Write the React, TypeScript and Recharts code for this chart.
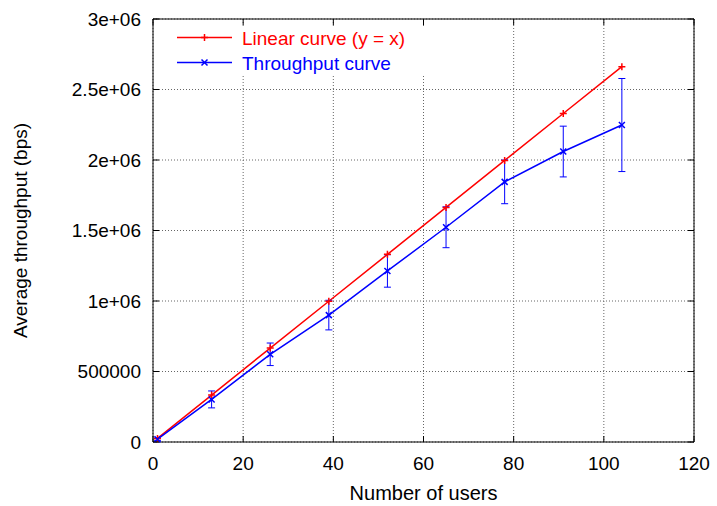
import { LineChart, Line, XAxis, YAxis, CartesianGrid, ErrorBar, ReferenceArea, Legend } from 'recharts';

// number of users on the x axis
const users = [1, 13, 26, 39, 52, 65, 78, 91, 104];
// ideal line, y = x
const linearCurve = [25600, 333000, 666000, 998000, 1331000, 1664000, 1997000, 2330000, 2662000];
// measured average throughput and its error
const throughputCurve = [20000, 302000, 622000, 900000, 1213000, 1523000, 1845000, 2060000, 2248000];
const throughputError = [8000, 60000, 80000, 105000, 115000, 145000, 155000, 180000, 330000];

const xTicks = [0, 20, 40, 60, 80, 100, 120];
const yTicks = [0, 500000, 1000000, 1500000, 2000000, 2500000, 3000000];
const yTickLabels = ['0', '500000', '1e+06', '1.5e+06', '2e+06', '2.5e+06', '3e+06'];

const seriesNames = ['Linear curve (y = x)', 'Throughput curve'];
const seriesColors = ['#ff0000', '#0000ff'];

const data = users.map((u, i) => ({
  users: u,
  linear: linearCurve[i],
  throughput: throughputCurve[i],
  err: throughputError[i],
}));

const W = 717;
const H = 506;
const LEFT = 153;
const RIGHT = 694;
const TOP = 19;
const BOTTOM = 442;
const TICK_LEN = 6;
const FONT = '"Liberation Sans", Arial, Helvetica, sans-serif';

function XTick(props: any) {
  const { x, payload } = props;
  return (
    <g>
      <line x1={x} x2={x} y1={BOTTOM} y2={BOTTOM - TICK_LEN} stroke="#000" />
      <line x1={x} x2={x} y1={TOP} y2={TOP + TICK_LEN} stroke="#000" />
      <text x={x} y={BOTTOM + 28} textAnchor="middle" fontSize={19} fontFamily={FONT} fill="#000">
        {payload.value}
      </text>
    </g>
  );
}

function YTick(props: any) {
  const { y, payload } = props;
  const idx = yTicks.indexOf(payload.value);
  return (
    <g>
      <line x1={LEFT} x2={LEFT + TICK_LEN} y1={y} y2={y} stroke="#000" />
      <line x1={RIGHT} x2={RIGHT - TICK_LEN} y1={y} y2={y} stroke="#000" />
      <text x={141} y={y + 6.5} textAnchor="end" fontSize={19} fontFamily={FONT} fill="#000">
        {idx >= 0 ? yTickLabels[idx] : payload.value}
      </text>
    </g>
  );
}

function PlusDot(props: any) {
  const { cx, cy } = props;
  if (cx == null || cy == null) return null;
  const s = 3.5;
  return (
    <path
      d={`M${cx - s},${cy}H${cx + s}M${cx},${cy - s}V${cy + s}`}
      stroke={seriesColors[0]}
      strokeWidth={1.5}
      fill="none"
    />
  );
}

function CrossDot(props: any) {
  const { cx, cy } = props;
  if (cx == null || cy == null) return null;
  const s = 3;
  return (
    <path
      d={`M${cx - s},${cy - s}L${cx + s},${cy + s}M${cx - s},${cy + s}L${cx + s},${cy - s}`}
      stroke={seriesColors[1]}
      strokeWidth={1.5}
      fill="none"
    />
  );
}

function LegendBox() {
  const rows = [37.5, 62.5];
  return (
    <svg width={460} height={80} style={{ display: 'block' }}>
      {/* gnuplot key is opaque: hides the grid behind it */}
      <rect x={160} y={26} width={270} height={50} fill="#fff" />
      {seriesNames.map((name, i) => {
        const y = rows[i];
        const mx = 204.5;
        return (
          <g key={name}>
            <line x1={177} x2={232} y1={y} y2={y} stroke={seriesColors[i]} strokeWidth={1.5} />
            {i === 0 ? (
              <path d={`M${mx - 3.5},${y}H${mx + 3.5}M${mx},${y - 3.5}V${y + 3.5}`} stroke={seriesColors[i]} strokeWidth={1.5} />
            ) : (
              <path d={`M${mx - 3},${y - 3}L${mx + 3},${y + 3}M${mx - 3},${y + 3}L${mx + 3},${y - 3}`} stroke={seriesColors[i]} strokeWidth={1.5} />
            )}
            <text x={242} y={y + 7} fontSize={19} fontFamily={FONT} fill={seriesColors[i]}>
              {name}
            </text>
          </g>
        );
      })}
    </svg>
  );
}

export default function App() {
  return (
    <div style={{ position: 'absolute', left: 0, top: 0, width: W, height: H, background: '#fff' }}>
      <LineChart width={W} height={H} data={data} margin={{ top: 19, right: 23, left: 43, bottom: 24 }}>
        <CartesianGrid stroke="#666" strokeDasharray="1 2" strokeWidth={1} />
        <XAxis
          type="number"
          dataKey="users"
          domain={[0, 120]}
          ticks={xTicks}
          height={40}
          tickSize={0}
          tickMargin={0}
          axisLine={false}
          tickLine={false}
          tick={(p: any) => <XTick {...p} />}
          label={{
            content: () => (
              <text x={(LEFT + RIGHT) / 2} y={500} textAnchor="middle" fontSize={20} fontFamily={FONT} fill="#000">
                Number of users
              </text>
            ),
          }}
        />
        <YAxis
          type="number"
          domain={[0, 3000000]}
          ticks={yTicks}
          width={110}
          tickSize={0}
          tickMargin={0}
          axisLine={false}
          tickLine={false}
          tick={(p: any) => <YTick {...p} />}
          label={{
            content: () => (
              <text
                transform={`translate(27, ${(TOP + BOTTOM) / 2}) rotate(-90)`}
                textAnchor="middle"
                fontSize={19}
                fontFamily={FONT}
                fill="#000"
              >
                Average throughput (bps)
              </text>
            ),
          }}
        />
        <ReferenceArea x1={0} x2={120} y1={0} y2={3000000} fill="none" fillOpacity={0} stroke="#000" strokeWidth={1} />
        <Line
          type="linear"
          dataKey="linear"
          stroke={seriesColors[0]}
          strokeWidth={1.5}
          dot={(p: any) => <PlusDot key={`p${p.index}`} {...p} />}
          activeDot={false}
          isAnimationActive={false}
        />
        <Line
          type="linear"
          dataKey="throughput"
          stroke={seriesColors[1]}
          strokeWidth={1.5}
          dot={(p: any) => <CrossDot key={`c${p.index}`} {...p} />}
          activeDot={false}
          isAnimationActive={false}
        >
          <ErrorBar dataKey="err" direction="y" width={3.5} stroke={seriesColors[1]} strokeWidth={1} isAnimationActive={false} />
        </Line>
        <Legend
          layout="vertical"
          align="center"
          verticalAlign="middle"
          wrapperStyle={{ position: 'absolute', left: 0, top: 0, width: 460, height: 80, zIndex: 10, pointerEvents: 'none' }}
          content={() => <LegendBox />}
        />
      </LineChart>
    </div>
  );
}
